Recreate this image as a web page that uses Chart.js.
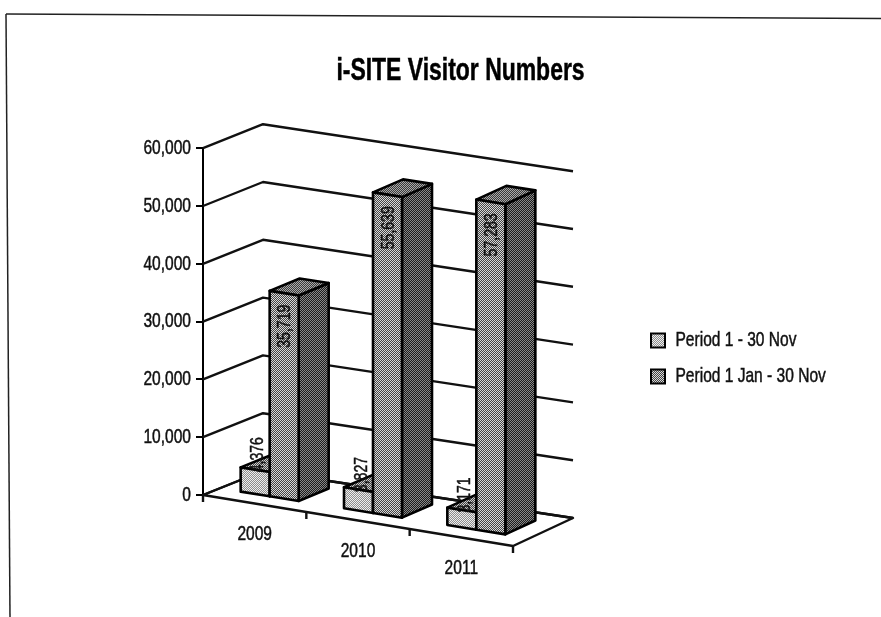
<!DOCTYPE html>
<html>
<head>
<meta charset="utf-8">
<title>i-SITE Visitor Numbers</title>
<script src="https://cdn.jsdelivr.net/npm/chart.js@4"></script>
<style>
  html, body { margin: 0; padding: 0; background: #fff; }
  canvas { display: block; }
</style>
</head>
<body>
<canvas id="visitorChart" width="881" height="617"></canvas>
<script>
const categories = ['2009', '2010', '2011'];
const periodNov = [4376, 3827, 3171];
const periodYear = [35719, 55639, 57283];
const seriesNames = ['Period 1 - 30 Nov', 'Period 1 Jan - 30 Nov'];

const FONT = "'Liberation Sans', sans-serif";
const INK = '#111';
const NARROW = 0.74;
// size of the 3D box the flat chart area gets pushed into
const DEPTH_X = 60, DEPTH_Y = 24, SLOPE_FRONT = 51, SLOPE_BACK = 47;
const BAR_D0 = 0.25, BAR_D1 = 0.75;

const canvas = document.getElementById('visitorChart');

// no condensed face installed, so squeeze all text sideways where it is drawn
// the thin stroke thickens it up like the scanned type
const context = canvas.getContext('2d');
const plainFillText = context.fillText.bind(context);
const plainStrokeText = context.strokeText.bind(context);
context.fillText = function(text, x, y) {
    context.save();
    context.translate(x, y);
    context.scale(NARROW, 1);
    plainFillText(text, 0, 0);
    context.strokeStyle = context.fillStyle;
    context.lineWidth = 0.5;
    plainStrokeText(text, 0, 0);
    context.restore();
};

// scanned halftone look, small checker tiles
function dither(a, b) {
    const c = document.createElement('canvas');
    c.width = c.height = 2;
    const g = c.getContext('2d');
    g.fillStyle = a; g.fillRect(0, 0, 2, 2);
    g.fillStyle = b; g.fillRect(1, 0, 1, 1); g.fillRect(0, 1, 1, 1);
    return g.createPattern(c, 'repeat');
}

const fills = [
    { front: dither('#eee', '#8c8c8c'), top: dither('#ccc', '#444'), side: dither('#ddd', '#666') },
    { front: dither('#d8d8d8', '#444'), top: dither('#aaa', '#3a3a3a'), side: dither('#888', '#1c1c1c') }
];

const labelShift = [{ x: 3, y: -15 }, { x: 1, y: 33 }];

function project(area, x, y, d) {
    const u = (x - area.left) / area.width;
    const slope = SLOPE_FRONT + (SLOPE_BACK - SLOPE_FRONT) * d;
    return [x + d * DEPTH_X, y + u * slope - d * DEPTH_Y];
}

function poly(ctx, pts, fill) {
    ctx.beginPath();
    pts.forEach((p, i) => i ? ctx.lineTo(p[0], p[1]) : ctx.moveTo(p[0], p[1]));
    ctx.closePath();
    if (fill) { ctx.fillStyle = fill; ctx.fill(); }
    ctx.stroke();
}

function line(ctx, pts) {
    ctx.beginPath();
    pts.forEach((p, i) => i ? ctx.lineTo(p[0], p[1]) : ctx.moveTo(p[0], p[1]));
    ctx.stroke();
}

const box3d = {
    id: 'box3d',
    beforeDraw(chart) {
        const ctx = chart.ctx;
        // edge of the scanned page
        ctx.save();
        ctx.strokeStyle = '#222';
        ctx.lineWidth = 1.5;
        line(ctx, [[6, 14], [881, 18.5]]);
        line(ctx, [[6, 14], [10, 617]]);
        ctx.restore();
        // move legend and title to where the picture has them
        const lg = chart.legend;
        const w = lg.width, h = lg.height;
        lg.left = 636; lg.right = lg.left + w;
        lg.top = 315; lg.bottom = lg.top + h;
        chart.titleBlock.left = 0;
        chart.titleBlock.right = 921;
    },
    beforeDatasetsDraw(chart) {
        const ctx = chart.ctx, area = chart.chartArea;
        const xs = chart.scales.x, ys = chart.scales.y;
        ctx.save();
        ctx.strokeStyle = INK;
        ctx.lineWidth = 2.4;
        ctx.lineJoin = 'round';
        ys.ticks.forEach(t => {
            const y = ys.getPixelForValue(t.value);
            line(ctx, [[area.left, y], project(area, area.left, y, 1), project(area, area.right, y, 1)]);
        });
        // floor
        const y0 = ys.getPixelForValue(0);
        poly(ctx, [[area.left, y0], project(area, area.right, y0, 0), project(area, area.right, y0, 1), project(area, area.left, y0, 1)]);
        // ticks along the front edge, between the categories
        const step = xs.width / categories.length;
        for (let i = 0; i <= categories.length; i++) {
            const p = project(area, xs.left + i * step, y0, 0);
            line(ctx, [p, [p[0], p[1] + 7]]);
        }
        ctx.fillStyle = INK;
        ctx.font = '21px ' + FONT;
        ctx.textAlign = 'center';
        ctx.textBaseline = 'middle';
        categories.forEach((c, i) => {
            const x = xs.getPixelForValue(i);
            ctx.fillText(c, x, project(area, x, y0, 0)[1] + 31);
        });
        ctx.restore();
    },
    beforeDatasetDraw() {
        return false;
    },
    afterDatasetsDraw(chart) {
        const ctx = chart.ctx, area = chart.chartArea;
        ctx.save();
        ctx.strokeStyle = '#000';
        ctx.lineWidth = 2.6;
        ctx.lineJoin = 'round';
        const labels = [];
        categories.forEach((c, i) => {
            chart.data.datasets.forEach((ds, k) => {
                const b = chart.getDatasetMeta(k).data[i];
                const x0 = b.x - b.width / 2, x1 = b.x + b.width / 2;
                const f = fills[k];
                const fbl = project(area, x0, b.base, BAR_D0), fbr = project(area, x1, b.base, BAR_D0);
                const ftl = project(area, x0, b.y, BAR_D0), ftr = project(area, x1, b.y, BAR_D0);
                const bbr = project(area, x1, b.base, BAR_D1);
                const btl = project(area, x0, b.y, BAR_D1), btr = project(area, x1, b.y, BAR_D1);
                poly(ctx, [fbr, bbr, btr, ftr], f.side);
                poly(ctx, [ftl, ftr, btr, btl], f.top);
                poly(ctx, [fbl, fbr, ftr, ftl], f.front);
                labels.push({
                    text: ds.data[i].toLocaleString('en-US'),
                    x: (ftl[0] + ftr[0]) / 2 + labelShift[k].x,
                    y: (ftl[1] + ftr[1]) / 2 + labelShift[k].y
                });
            });
        });
        ctx.fillStyle = '#111';
        ctx.font = '19px ' + FONT;
        ctx.textAlign = 'center';
        ctx.textBaseline = 'middle';
        labels.forEach(l => {
            ctx.save();
            ctx.translate(l.x, l.y);
            ctx.rotate(-Math.PI / 2);
            ctx.fillText(l.text, 0, 0);
            ctx.restore();
        });
        ctx.restore();
    }
};

new Chart(canvas, {
    type: 'bar',
    plugins: [box3d],
    data: {
        labels: categories,
        datasets: [
            { label: seriesNames[0], data: periodNov, backgroundColor: fills[0].front, borderColor: '#000', borderWidth: 2 },
            { label: seriesNames[1], data: periodYear, backgroundColor: fills[1].front, borderColor: '#000', borderWidth: 2 }
        ]
    },
    options: {
        responsive: false,
        animation: false,
        categoryPercentage: 0.5613,
        barPercentage: 1,
        layout: { padding: { top: 53, right: 368, bottom: 122, left: 0 } },
        scales: {
            x: { display: false },
            y: {
                min: 0,
                max: 60000,
                afterFit(scale) { scale.width = 203; },
                border: { color: '#000', width: 2 },
                grid: { drawOnChartArea: false, color: '#000', tickLength: 7, lineWidth: 2 },
                ticks: {
                    stepSize: 10000,
                    padding: 5,
                    color: INK,
                    font: { family: FONT, size: 21 },
                    callback: v => v.toLocaleString('en-US')
                }
            }
        },
        plugins: {
            title: {
                display: true,
                text: 'i-SITE Visitor Numbers',
                color: '#000',
                font: { family: FONT, size: 31, weight: 'bold', lineHeight: 1.2 },
                padding: { top: 0, bottom: 58 }
            },
            legend: {
                position: 'chartArea',
                align: 'start',
                labels: {
                    color: INK,
                    boxWidth: 14,
                    boxHeight: 14,
                    padding: 15,
                    font: { family: FONT, size: 21 }
                }
            },
            tooltip: { enabled: false }
        }
    }
});
</script>
</body>
</html>
